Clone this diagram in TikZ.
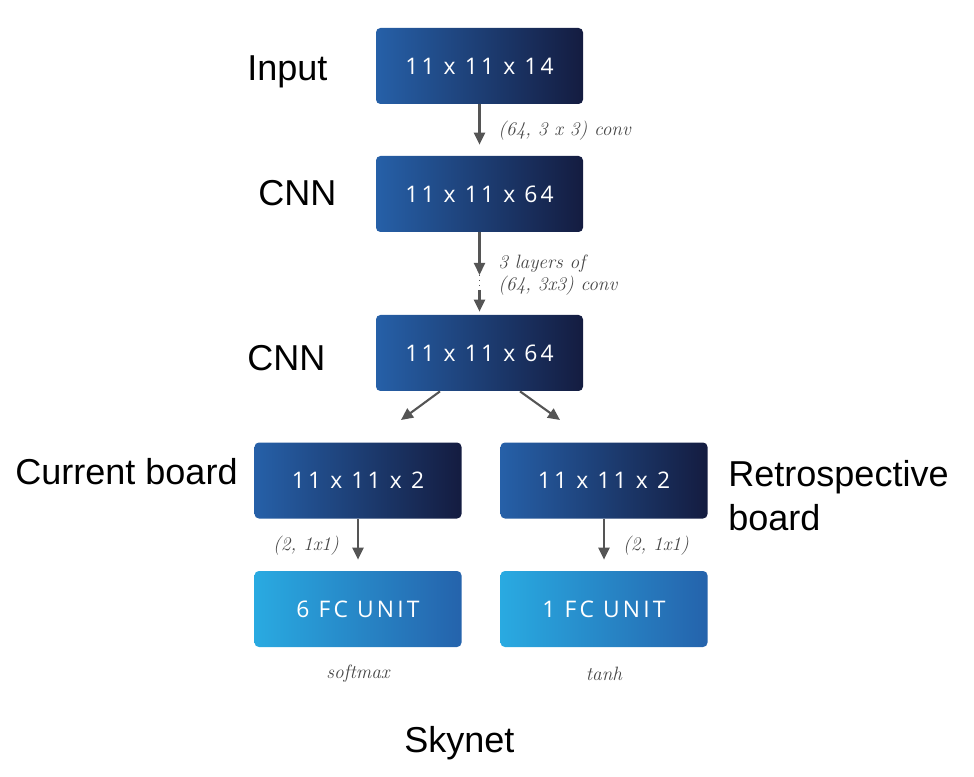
\documentclass[tikz,border=0pt]{standalone}
\usepackage{fontspec}
\usepackage{tikz}
\usetikzlibrary{arrows.meta, positioning, calc}
\newfontfamily\labelfont{Liberation Sans}
\newfontfamily\boxfont{Open Sans}[LetterSpace=14]
\definecolor{navyL}{RGB}{38,96,168}
\definecolor{navyR}{RGB}{20,28,64}
\definecolor{cyanL}{RGB}{41,170,225}
\definecolor{cyanR}{RGB}{37,99,172}
\definecolor{arrowgray}{RGB}{85,85,85}
\definecolor{notegray}{RGB}{70,70,70}

\begin{document}
\begin{tikzpicture}[
  layer/.style={rounded corners=2.5pt, minimum width=4.14cm, minimum height=1.52cm,
    left color=navyL, right color=navyR, text=white, font=\boxfont\fontsize{13}{15}\selectfont},
  fcunit/.style={layer, left color=cyanL, right color=cyanR},
  conn/.style={-{Triangle[length=2.4mm,width=2.2mm]}, line width=1.2pt, arrowgray},
  note/.style={font=\itshape\fontsize{11}{12.5}\selectfont, text=notegray, inner sep=0pt},
  side/.style={font=\labelfont\fontsize{20.5}{24.5}\selectfont, inner sep=0pt, anchor=base west}
]
  \useasboundingbox (0,0) rectangle (19.48,15.52);
  % trunk
  \node[layer] (input) at (9.59,14.2) {11 x 11 x 14};
  \node[layer] (cnna) at (9.59,11.64) {11 x 11 x 64};
  \node[layer] (cnnb) at (9.59,8.46) {11 x 11 x 64};
  % heads
  \node[layer] (cur) at (7.16,5.91) {11 x 11 x 2};
  \node[layer] (retro) at (12.08,5.91) {11 x 11 x 2};
  \node[fcunit] (fcsix) at (7.16,3.34) {6 FC UNIT};
  \node[fcunit] (fcone) at (12.08,3.34) {1 FC UNIT};
  % side labels
  \node[side] (lInput) at (4.94,13.9) {Input};
  \node[side] (lCnnA) at (5.16,11.4) {CNN};
  \node[side] (lCnnB) at (4.94,8.1) {CNN};
  \node[side] (lCur) at (0.3,5.82) {Current board};
  \node[side, align=left] (lRetro) at (14.56,4.92) {Retrospective\\board};
  \node[side] (lSky) at (8.08,0.48) {Skynet};
  % notes
  \node[note, anchor=west] (nConv) at (9.96,12.9) {(64, 3 x 3) conv};
  \node[note, anchor=west, align=left] (nLayers) at (9.96,10.01) {3 layers of\\(64, 3x3) conv};
  \node[note] (nCur) at (6.12,4.6) {(2, 1x1)};
  \node[note] (nRetro) at (13.12,4.6) {(2, 1x1)};
  \node[note] (nSoft) at (7.16,2.04) {softmax};
  \node[note] (nTanh) at (12.08,2.04) {tanh};
  % input -> cnn
  \draw[conn, shorten >=0.22cm] (input) -- (cnna);
  % stacked conv layers
  \coordinate (dotTop) at (9.59,10.02);
  \coordinate (dotBot) at (9.59,9.72);
  \draw[conn] (cnna) -- (dotTop);
  \draw[arrowgray, line width=0.8pt, dotted] (dotTop) -- (dotBot);
  \draw[conn, shorten >=0.06cm] (dotBot) -- (cnnb);
  % split into two boards
  \coordinate (splitL) at (8.02,7.12);
  \coordinate (splitR) at (11.2,7.12);
  \draw[conn] ($(cnnb.south)+(-0.79,0)$) -- (splitL);
  \draw[conn] ($(cnnb.south)+(0.81,0)$) -- (splitR);
  % fc units
  \draw[conn, shorten >=0.22cm] (cur) -- (fcsix);
  \draw[conn, shorten >=0.22cm] (retro) -- (fcone);
\end{tikzpicture}
\end{document}
